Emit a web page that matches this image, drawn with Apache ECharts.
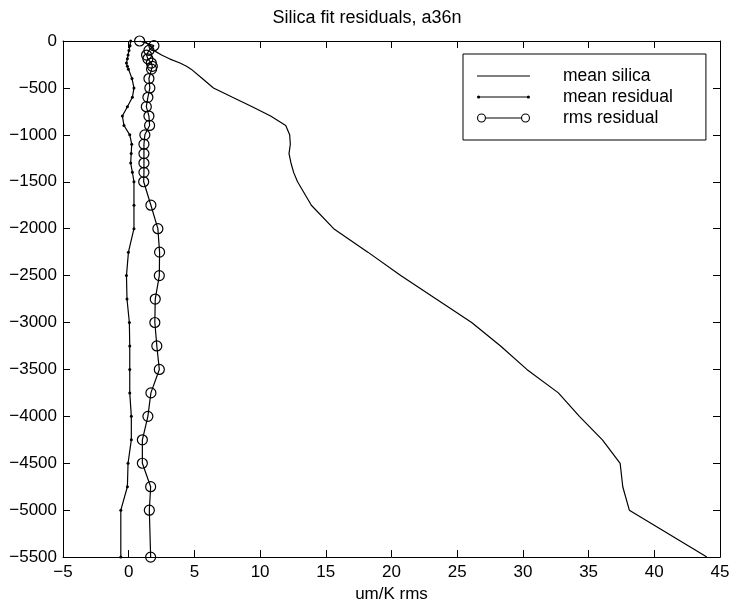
<!DOCTYPE html>
<html>
<head>
<meta charset="utf-8">
<script src="https://cdn.jsdelivr.net/npm/echarts@6/dist/echarts.min.js"></script>
<style>
html,body{margin:0;padding:0;background:#fff;}
#chart{width:734px;height:608px;}
</style>
</head>
<body>
<div id="chart"></div>
<script>
const depths = [0,-50,-100,-150,-190,-235,-270,-300,-400,-500,-600,-700,-800,-900,-1000,-1100,-1200,-1300,-1400,-1500,-1750,-2000,-2250,-2500,-2750,-3000,-3250,-3500,-3750,-4000,-4250,-4500,-4750,-5000,-5500];
const meanSilica = [1.2,1.6,1.9,2.5,3.1,3.9,4.4,4.75,5.6,6.45,7.9,9.4,10.8,11.95,12.25,12.3,12.2,12.35,12.55,12.85,13.9,15.6,18.2,20.7,23.4,26.1,28.3,30.3,32.7,34.3,36.05,37.4,37.6,38.1,44.0];
const meanResidual = [0.15,0.1,0.02,-0.05,-0.1,-0.17,-0.1,-0.02,0.25,0.4,0.28,-0.1,-0.48,-0.36,0.08,0.23,0.19,0.15,0.28,0.4,0.4,0.4,-0.02,-0.17,-0.13,0.05,0.08,0.08,0.08,0.2,0.2,-0.05,-0.1,-0.6,-0.6];
const rmsResidual = [0.83,1.92,1.54,1.36,1.46,1.72,1.80,1.74,1.54,1.61,1.46,1.34,1.54,1.59,1.23,1.16,1.16,1.16,1.16,1.14,1.69,2.22,2.35,2.33,2.02,1.99,2.14,2.33,1.69,1.46,1.04,1.04,1.67,1.57,1.67];
const xTicks = {min:-5, max:45, interval:5};
const yTicks = {min:-5500, max:0, interval:500};
const titleText = 'Silica fit residuals, a36n';
const xName = 'um/K rms';
const seriesNames = ['mean silica','mean residual','rms residual'];

const pairs = arr => arr.map((v,i)=>[v, depths[i]]);
const FONT = 'Liberation Sans, Arial, Helvetica, sans-serif';
const fmt = v => String(v).replace('-', '\u2212');

// legend icons (MATLAB style: line with markers at both ends)
const ring = (cx, r, w) =>
  `M${cx-r},0 A${r},${r} 0 1 1 ${cx+r},0 A${r},${r} 0 1 1 ${cx-r},0 Z ` +
  `M${cx-r+w},0 A${r-w},${r-w} 0 1 0 ${cx+r-w},0 A${r-w},${r-w} 0 1 0 ${cx-r+w},0 Z `;
const dot = (cx, r) => `M${cx-r},0 A${r},${r} 0 1 1 ${cx+r},0 A${r},${r} 0 1 1 ${cx-r},0 Z `;
const bar = (x0, x1, h) => `M${x0},${-h} L${x1},${-h} L${x1},${h} L${x0},${h} Z `;
const iconSilica = 'path://' + bar(0, 53, 0.6);
const iconResid = 'path://' + dot(1.6, 1.6) + bar(1.6, 51.4, 0.6) + dot(51.4, 1.6);
const iconRms = 'path://' + ring(4.5, 4.5, 1.1) + bar(8.6, 44.4, 0.6) + ring(48.5, 4.5, 1.1);

const chart = echarts.init(document.getElementById('chart'), null, {renderer:'canvas'});
const axisCommon = {
  axisLine:{show:true, onZero:false, lineStyle:{color:'#000', width:1}},
  axisTick:{show:true, inside:true, length:7, lineStyle:{color:'#000', width:1}},
  splitLine:{show:false}
};
const legendItemStyle = {color:'#000', borderWidth:0, opacity:1};
chart.setOption({
  animation:false,
  backgroundColor:'#fff',
  title:{text:titleText, left:'center', top:4, textStyle:{fontFamily:FONT, fontSize:18, fontWeight:'normal', color:'#000'}},
  grid:{left:63, right:14, top:41, bottom:45},
  legend:{
    orient:'vertical', left:463, top:54,
    symbolKeepAspect:true,
    data:[
      {name:seriesNames[0], icon:iconSilica, itemStyle:legendItemStyle},
      {name:seriesNames[1], icon:iconResid, itemStyle:legendItemStyle},
      {name:seriesNames[2], icon:iconRms, itemStyle:legendItemStyle}
    ],
    backgroundColor:'#fff', borderColor:'#000', borderWidth:1, borderRadius:0,
    padding:[12,33,12,14], itemGap:1, itemWidth:53, itemHeight:12,
    textStyle:{fontFamily:FONT, fontSize:17.5, color:'#000', lineHeight:20, padding:[0,0,0,28]}
  },
  xAxis:[
    Object.assign({type:'value', position:'bottom', min:xTicks.min, max:xTicks.max, interval:xTicks.interval,
      name:xName, nameLocation:'middle', nameGap:26,
      nameTextStyle:{fontFamily:FONT, fontSize:17, color:'#000'},
      axisLabel:{fontFamily:FONT, fontSize:17, color:'#000', margin:7, formatter:fmt}}, axisCommon),
    Object.assign({type:'value', position:'top', min:xTicks.min, max:xTicks.max, interval:xTicks.interval,
      axisLabel:{show:false}}, axisCommon)
  ],
  yAxis:[
    Object.assign({type:'value', position:'left', min:yTicks.min, max:yTicks.max, interval:yTicks.interval,
      axisLabel:{fontFamily:FONT, fontSize:17, color:'#000', margin:6, formatter:fmt}}, axisCommon),
    Object.assign({type:'value', position:'right', min:yTicks.min, max:yTicks.max, interval:yTicks.interval,
      axisLabel:{show:false}}, axisCommon)
  ],
  series:[
    {name:seriesNames[0], type:'line', data:pairs(meanSilica), showSymbol:false, symbol:'none',
      lineStyle:{color:'#000', width:1.2}, itemStyle:{color:'#000'}},
    {name:seriesNames[1], type:'line', data:pairs(meanResidual), symbol:'circle', symbolSize:3,
      lineStyle:{color:'#000', width:1.2}, itemStyle:{color:'#000'}},
    {name:seriesNames[2], type:'line', data:pairs(rmsResidual), symbol:'circle', symbolSize:10,
      lineStyle:{color:'#000', width:1.2}, itemStyle:{color:'rgba(0,0,0,0)', borderColor:'#000', borderWidth:1.2}}
  ]
});
</script>
</body>
</html>
